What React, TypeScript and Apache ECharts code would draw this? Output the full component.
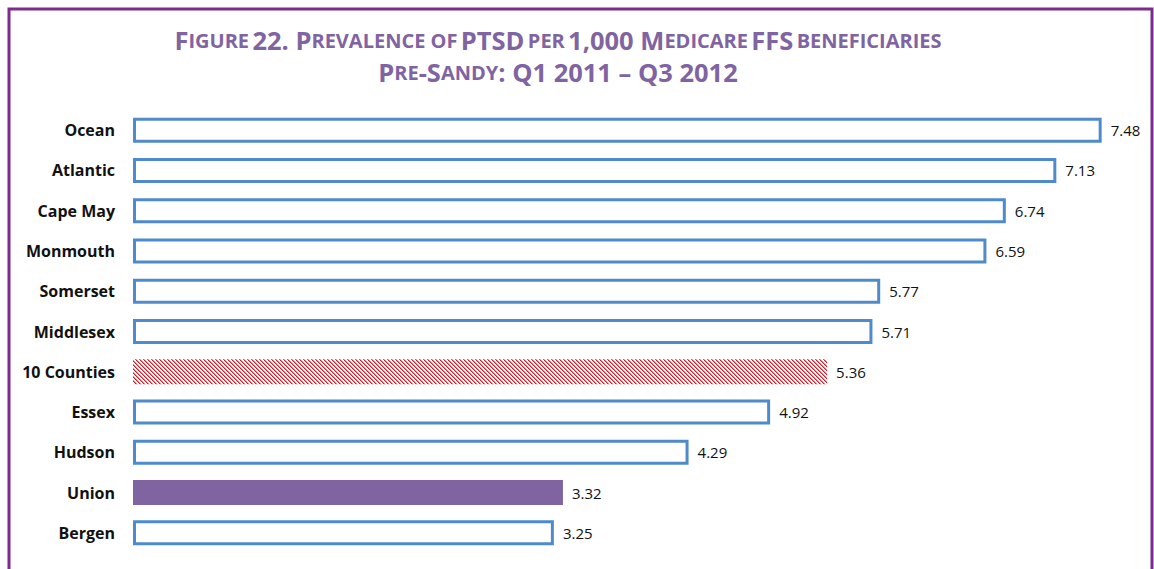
import React, { useEffect, useRef } from "react";
import * as echarts from "echarts";

const categories = ["Ocean", "Atlantic", "Cape May", "Monmouth", "Somerset", "Middlesex", "10 Counties", "Essex", "Hudson", "Union", "Bergen"];
const values = [7.48, 7.13, 6.74, 6.59, 5.77, 5.71, 5.36, 4.92, 4.29, 3.32, 3.25];
const hatchedCategory = "10 Counties";
const filledCategory = "Union";

function makeHatch(): HTMLCanvasElement {
  const c = document.createElement("canvas");
  c.width = 4;
  c.height = 4;
  const ctx = c.getContext("2d")!;
  ctx.fillStyle = "#ffffff";
  ctx.fillRect(0, 0, 4, 4);
  for (let i = 0; i < 4; i++) {
    ctx.fillStyle = "#e01a24";
    ctx.fillRect(i, i, 1, 1);
    ctx.fillStyle = "#f08088";
    ctx.fillRect((i + 1) % 4, i, 1, 1);
  }
  return c;
}

export default function App() {
  const ref = useRef<HTMLDivElement>(null);
  useEffect(() => {
    const chart = echarts.init(ref.current!, null, { renderer: "svg" });
    const hatch = makeHatch();
    const big = 25.5;
    const small = 20;
    const purple = "#8064A2";
    const rich = {
      b: { fontSize: big, fontWeight: "bold", fill: purple, fontFamily: "Open Sans" },
      s: { fontSize: small, fontWeight: "bold", fill: purple, fontFamily: "Open Sans" },
    };
    chart.setOption({
      animation: false,
      grid: { left: 133, top: 110, width: 971.25, height: 443, containLabel: false },
      xAxis: { type: "value", min: 0, max: 7.5, show: false },
      yAxis: {
        type: "category",
        data: categories,
        inverse: true,
        axisLine: { show: false },
        axisTick: { show: false },
        axisLabel: { fontFamily: "Open Sans", fontWeight: "bold", fontSize: 16, color: "#111", margin: 18 },
      },
      series: [
        {
          type: "bar",
          barWidth: 25,
          data: categories.map((c, i) => {
            if (c === hatchedCategory) {
              return { value: values[i], itemStyle: { color: { image: hatch, repeat: "repeat" }, borderWidth: 0 } };
            }
            if (c === filledCategory) {
              return { value: values[i], itemStyle: { color: purple, borderWidth: 0 } };
            }
            return { value: values[i], itemStyle: { color: "#ffffff", borderColor: "#4F8BCB", borderWidth: 3 } };
          }),
          label: {
            show: true,
            position: "right",
            distance: 9,
            fontFamily: "Open Sans",
            fontSize: 15,
            color: "#111",
            formatter: (p: any) => p.value.toFixed(2),
          },
        },
      ],
      graphic: [
        {
          type: "rect",
          shape: { x: 9, y: 9, width: 1143, height: 600 },
          style: { fill: "none", stroke: "#7B2D8E", lineWidth: 3 },
          z: -1,
        },
        {
          type: "text",
          x: 558,
          y: 24,
          style: {
            text: "{b|F}{s|IGURE} {b|22. P}{s|REVALENCE OF} {b|PTSD} {s|PER} {b|1,000 M}{s|EDICARE} {b|FFS} {s|BENEFICIARIES}\n{b|P}{s|RE}{b|-S}{s|ANDY}{b|: Q1 2011 – Q3 2012}",
            rich,
            align: "center",
            fill: purple,
            lineHeight: 32,
          },
        },
      ],
    });
    return () => chart.dispose();
  }, []);
  return <div ref={ref} style={{ position: "absolute", left: 0, top: 0, width: 1154, height: 569 }} />;
}
